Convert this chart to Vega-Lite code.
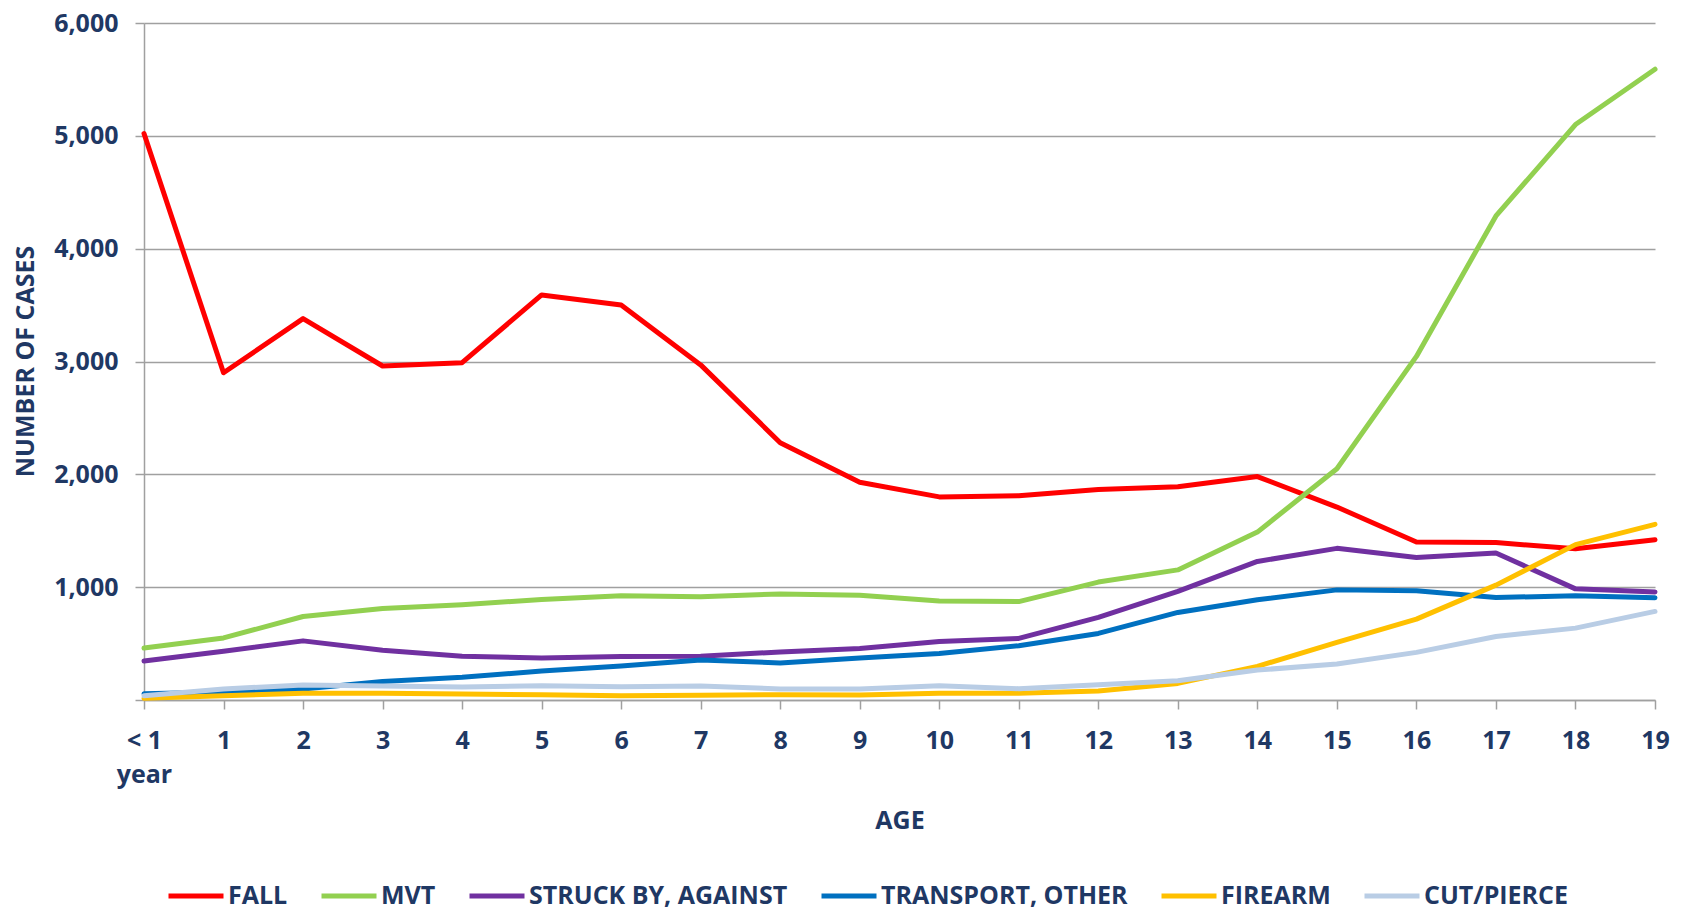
{
  "$schema": "https://vega.github.io/schema/vega-lite/v6.json",
  "width": 1511,
  "height": 677,
  "autosize": {"type": "none"},
  "padding": {"left": 144, "top": 23, "right": 27, "bottom": 215},
  "background": "white",
  "config": {"view": {"stroke": null}, "font": "Open Sans"},
  "data": {
    "values": [
      {"age": "< 1 year", "cause": "FALL", "cases": 5020},
      {"age": "1", "cause": "FALL", "cases": 2900},
      {"age": "2", "cause": "FALL", "cases": 3380},
      {"age": "3", "cause": "FALL", "cases": 2960},
      {"age": "4", "cause": "FALL", "cases": 2990},
      {"age": "5", "cause": "FALL", "cases": 3590},
      {"age": "6", "cause": "FALL", "cases": 3500},
      {"age": "7", "cause": "FALL", "cases": 2970},
      {"age": "8", "cause": "FALL", "cases": 2280},
      {"age": "9", "cause": "FALL", "cases": 1930},
      {"age": "10", "cause": "FALL", "cases": 1800},
      {"age": "11", "cause": "FALL", "cases": 1810},
      {"age": "12", "cause": "FALL", "cases": 1865},
      {"age": "13", "cause": "FALL", "cases": 1890},
      {"age": "14", "cause": "FALL", "cases": 1980},
      {"age": "15", "cause": "FALL", "cases": 1710},
      {"age": "16", "cause": "FALL", "cases": 1400},
      {"age": "17", "cause": "FALL", "cases": 1395},
      {"age": "18", "cause": "FALL", "cases": 1340},
      {"age": "19", "cause": "FALL", "cases": 1420},
      {"age": "< 1 year", "cause": "MVT", "cases": 460},
      {"age": "1", "cause": "MVT", "cases": 550},
      {"age": "2", "cause": "MVT", "cases": 740},
      {"age": "3", "cause": "MVT", "cases": 810},
      {"age": "4", "cause": "MVT", "cases": 845},
      {"age": "5", "cause": "MVT", "cases": 890},
      {"age": "6", "cause": "MVT", "cases": 925},
      {"age": "7", "cause": "MVT", "cases": 915},
      {"age": "8", "cause": "MVT", "cases": 940},
      {"age": "9", "cause": "MVT", "cases": 928},
      {"age": "10", "cause": "MVT", "cases": 878},
      {"age": "11", "cause": "MVT", "cases": 872},
      {"age": "12", "cause": "MVT", "cases": 1045},
      {"age": "13", "cause": "MVT", "cases": 1153},
      {"age": "14", "cause": "MVT", "cases": 1488},
      {"age": "15", "cause": "MVT", "cases": 2050},
      {"age": "16", "cause": "MVT", "cases": 3045},
      {"age": "17", "cause": "MVT", "cases": 4290},
      {"age": "18", "cause": "MVT", "cases": 5100},
      {"age": "19", "cause": "MVT", "cases": 5590},
      {"age": "< 1 year", "cause": "STRUCK BY, AGAINST", "cases": 346},
      {"age": "1", "cause": "STRUCK BY, AGAINST", "cases": 432},
      {"age": "2", "cause": "STRUCK BY, AGAINST", "cases": 524},
      {"age": "3", "cause": "STRUCK BY, AGAINST", "cases": 440},
      {"age": "4", "cause": "STRUCK BY, AGAINST", "cases": 388},
      {"age": "5", "cause": "STRUCK BY, AGAINST", "cases": 373},
      {"age": "6", "cause": "STRUCK BY, AGAINST", "cases": 385},
      {"age": "7", "cause": "STRUCK BY, AGAINST", "cases": 388},
      {"age": "8", "cause": "STRUCK BY, AGAINST", "cases": 426},
      {"age": "9", "cause": "STRUCK BY, AGAINST", "cases": 457},
      {"age": "10", "cause": "STRUCK BY, AGAINST", "cases": 519},
      {"age": "11", "cause": "STRUCK BY, AGAINST", "cases": 546},
      {"age": "12", "cause": "STRUCK BY, AGAINST", "cases": 732},
      {"age": "13", "cause": "STRUCK BY, AGAINST", "cases": 962},
      {"age": "14", "cause": "STRUCK BY, AGAINST", "cases": 1228},
      {"age": "15", "cause": "STRUCK BY, AGAINST", "cases": 1344},
      {"age": "16", "cause": "STRUCK BY, AGAINST", "cases": 1262},
      {"age": "17", "cause": "STRUCK BY, AGAINST", "cases": 1302},
      {"age": "18", "cause": "STRUCK BY, AGAINST", "cases": 985},
      {"age": "19", "cause": "STRUCK BY, AGAINST", "cases": 958},
      {"age": "< 1 year", "cause": "TRANSPORT, OTHER", "cases": 55},
      {"age": "1", "cause": "TRANSPORT, OTHER", "cases": 70},
      {"age": "2", "cause": "TRANSPORT, OTHER", "cases": 98},
      {"age": "3", "cause": "TRANSPORT, OTHER", "cases": 163},
      {"age": "4", "cause": "TRANSPORT, OTHER", "cases": 201},
      {"age": "5", "cause": "TRANSPORT, OTHER", "cases": 257},
      {"age": "6", "cause": "TRANSPORT, OTHER", "cases": 302},
      {"age": "7", "cause": "TRANSPORT, OTHER", "cases": 355},
      {"age": "8", "cause": "TRANSPORT, OTHER", "cases": 328},
      {"age": "9", "cause": "TRANSPORT, OTHER", "cases": 372},
      {"age": "10", "cause": "TRANSPORT, OTHER", "cases": 413},
      {"age": "11", "cause": "TRANSPORT, OTHER", "cases": 481},
      {"age": "12", "cause": "TRANSPORT, OTHER", "cases": 590},
      {"age": "13", "cause": "TRANSPORT, OTHER", "cases": 776},
      {"age": "14", "cause": "TRANSPORT, OTHER", "cases": 888},
      {"age": "15", "cause": "TRANSPORT, OTHER", "cases": 976},
      {"age": "16", "cause": "TRANSPORT, OTHER", "cases": 968},
      {"age": "17", "cause": "TRANSPORT, OTHER", "cases": 909},
      {"age": "18", "cause": "TRANSPORT, OTHER", "cases": 923},
      {"age": "19", "cause": "TRANSPORT, OTHER", "cases": 906},
      {"age": "< 1 year", "cause": "FIREARM", "cases": 15},
      {"age": "1", "cause": "FIREARM", "cases": 38},
      {"age": "2", "cause": "FIREARM", "cases": 59},
      {"age": "3", "cause": "FIREARM", "cases": 59},
      {"age": "4", "cause": "FIREARM", "cases": 53},
      {"age": "5", "cause": "FIREARM", "cases": 47},
      {"age": "6", "cause": "FIREARM", "cases": 38},
      {"age": "7", "cause": "FIREARM", "cases": 41},
      {"age": "8", "cause": "FIREARM", "cases": 47},
      {"age": "9", "cause": "FIREARM", "cases": 44},
      {"age": "10", "cause": "FIREARM", "cases": 59},
      {"age": "11", "cause": "FIREARM", "cases": 59},
      {"age": "12", "cause": "FIREARM", "cases": 80},
      {"age": "13", "cause": "FIREARM", "cases": 147},
      {"age": "14", "cause": "FIREARM", "cases": 298},
      {"age": "15", "cause": "FIREARM", "cases": 510},
      {"age": "16", "cause": "FIREARM", "cases": 717},
      {"age": "17", "cause": "FIREARM", "cases": 1018},
      {"age": "18", "cause": "FIREARM", "cases": 1377},
      {"age": "19", "cause": "FIREARM", "cases": 1557},
      {"age": "< 1 year", "cause": "CUT/PIERCE", "cases": 38},
      {"age": "1", "cause": "CUT/PIERCE", "cases": 98},
      {"age": "2", "cause": "CUT/PIERCE", "cases": 133},
      {"age": "3", "cause": "CUT/PIERCE", "cases": 124},
      {"age": "4", "cause": "CUT/PIERCE", "cases": 115},
      {"age": "5", "cause": "CUT/PIERCE", "cases": 127},
      {"age": "6", "cause": "CUT/PIERCE", "cases": 118},
      {"age": "7", "cause": "CUT/PIERCE", "cases": 124},
      {"age": "8", "cause": "CUT/PIERCE", "cases": 98},
      {"age": "9", "cause": "CUT/PIERCE", "cases": 97},
      {"age": "10", "cause": "CUT/PIERCE", "cases": 127},
      {"age": "11", "cause": "CUT/PIERCE", "cases": 100},
      {"age": "12", "cause": "CUT/PIERCE", "cases": 136},
      {"age": "13", "cause": "CUT/PIERCE", "cases": 171},
      {"age": "14", "cause": "CUT/PIERCE", "cases": 265},
      {"age": "15", "cause": "CUT/PIERCE", "cases": 319},
      {"age": "16", "cause": "CUT/PIERCE", "cases": 422},
      {"age": "17", "cause": "CUT/PIERCE", "cases": 563},
      {"age": "18", "cause": "CUT/PIERCE", "cases": 637},
      {"age": "19", "cause": "CUT/PIERCE", "cases": 785}
    ]
  },
  "mark": {"type": "line", "strokeWidth": 5, "strokeJoin": "round", "strokeCap": "round"},
  "encoding": {
    "x": {
      "field": "age",
      "type": "ordinal",
      "sort": null,
      "scale": {"type": "point", "padding": 0},
      "axis": {
        "title": "AGE",
        "titleFont": "Open Sans",
        "titleFontSize": 25,
        "titleFontWeight": "bold",
        "titleColor": "#1F3864",
        "titleBaseline": "alphabetic",
        "titleY": 128,
        "labelAngle": 0,
        "labelExpr": "datum.value == '< 1 year' ? ['< 1', 'year'] : datum.label",
        "labelFont": "Open Sans",
        "labelFontSize": 25,
        "labelFontWeight": "bold",
        "labelColor": "#1F3864",
        "labelBaseline": "alphabetic",
        "labelPadding": 39,
        "labelLineHeight": 34,
        "grid": false,
        "domainColor": "#A0A0A0",
        "domainWidth": 1.5,
        "tickColor": "#A0A0A0",
        "tickWidth": 1.5,
        "tickSize": 9
      }
    },
    "y": {
      "field": "cases",
      "type": "quantitative",
      "scale": {"domain": [0, 6000], "nice": false},
      "axis": {
        "values": [0, 1000, 2000, 3000, 4000, 5000, 6000],
        "labelExpr": "datum.value == 0 ? '' : format(datum.value, ',')",
        "title": "NUMBER OF CASES",
        "titleFont": "Open Sans",
        "titleFontSize": 25,
        "titleFontWeight": "bold",
        "titleColor": "#1F3864",
        "titleAngle": -90,
        "titleBaseline": "alphabetic",
        "titleAlign": "center",
        "titleX": -111,
        "titleY": 338,
        "labelFont": "Open Sans",
        "labelFontSize": 25,
        "labelFontWeight": "bold",
        "labelColor": "#1F3864",
        "labelPadding": 17,
        "grid": true,
        "gridColor": "#A0A0A0",
        "gridWidth": 1.5,
        "domainColor": "#A0A0A0",
        "domainWidth": 1.5,
        "tickColor": "#A0A0A0",
        "tickWidth": 1.5,
        "tickSize": 9
      }
    },
    "color": {
      "field": "cause",
      "type": "nominal",
      "scale": {
        "domain": ["FALL", "MVT", "STRUCK BY, AGAINST", "TRANSPORT, OTHER", "FIREARM", "CUT/PIERCE"],
        "range": ["#FF0000", "#92D050", "#7030A0", "#0070C0", "#FFC000", "#B9CDE5"]
      },
      "legend": {
        "title": null,
        "orient": "none",
        "direction": "horizontal",
        "legendX": 22,
        "legendY": 843,
        "symbolType": "stroke",
        "symbolSize": 3025,
        "symbolStrokeWidth": 5,
        "labelOffset": 2,
        "columnPadding": 23,
        "labelFont": "Open Sans",
        "labelFontSize": 25,
        "labelFontWeight": "bold",
        "labelColor": "#1F3864",
        "labelLimit": 400
      }
    }
  }
}
